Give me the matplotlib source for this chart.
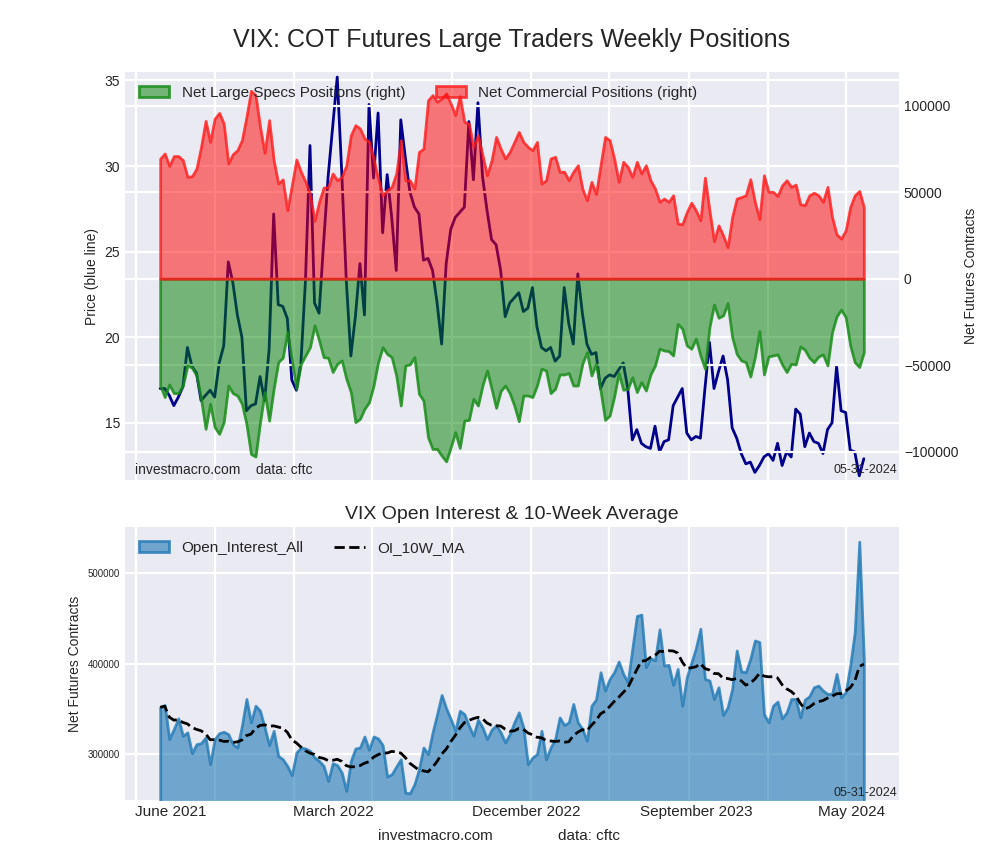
import numpy as np
import pandas as pd
import matplotlib.pyplot as plt
import matplotlib.dates as mdates
from matplotlib.ticker import MultipleLocator

plt.style.use('seaborn-v0_8-darkgrid')
plt.rcParams['font.family'] = ['Liberation Sans', 'DejaVu Sans']
plt.rcParams['grid.linewidth'] = 1.6

# weekly COT report dates (Tuesdays)
dates = pd.date_range("2021-06-08", "2024-05-28", freq="7D")

vix_price = [
    17.0, 17.0, 16.6, 16.0, 16.5, 17.1, 19.4, 18.3, 17.9, 16.3, 16.6, 16.9, 16.5, 18.5, 19.5, 24.4,
    23.2, 21.3, 20.0, 15.7, 16.0, 16.1, 17.7, 16.3, 19.3, 27.2, 21.9, 21.8, 21.1, 17.5, 16.9, 18.5,
    23.3, 31.2, 22.0, 21.4, 25.5, 29.4, 32.3, 35.2, 29.6, 23.3, 18.9, 21.2, 24.3, 21.3, 33.6, 29.3,
    33.1, 26.1, 29.5, 27.0, 23.9, 32.7, 30.5, 28.5, 27.6, 27.2, 24.5, 24.6, 23.9, 22.0, 19.6, 24.3,
    26.3, 27.0, 27.3, 27.6, 32.6, 29.2, 33.7, 29.4, 27.4, 25.7, 25.4, 23.9, 21.2, 22.0, 22.3, 22.6,
    21.5, 21.7, 22.9, 20.6, 19.4, 19.2, 19.4, 18.6, 18.9, 22.9, 20.8, 19.6, 23.7, 21.4, 19.6, 19.0,
    19.1, 17.0, 17.6, 17.8, 17.7, 18.1, 18.5, 17.0, 14.0, 14.6, 13.8, 13.6, 13.5, 14.8, 13.3, 13.9,
    14.0, 16.0, 16.5, 17.0, 14.4, 14.0, 14.2, 14.1, 17.0, 19.7, 17.0, 18.0, 18.9, 17.5, 14.7, 14.1,
    13.2, 12.6, 12.7, 12.1, 12.5, 13.0, 13.2, 12.8, 13.8, 12.5, 13.3, 13.0, 15.8, 15.5, 13.6, 14.4,
    13.9, 13.8, 13.2, 14.6, 15.0, 18.3, 15.7, 15.6, 13.4, 13.3, 11.9, 12.9,
]

net_large_specs = [
    -61800, -68500, -61200, -66200, -66200, -61800, -50200, -51500, -56000, -69500, -86900, -72400,
    -85900, -89800, -83000, -61800, -66200, -67600, -72400, -84000, -101400, -102900, -83000, -65600,
    -82100, -63700, -48300, -45700, -30900, -47300, -63700, -49200, -44400, -39600, -27000, -35700,
    -45400, -45700, -54000, -49200, -47300, -57900, -65600, -83000, -81100, -75300, -71500, -61800,
    -48300, -39600, -43500, -45400, -56000, -73400, -50200, -49600, -45400, -66600, -70500, -91700,
    -98500, -98500, -102400, -105700, -97500, -88800, -97900, -82100, -81700, -69500, -73400, -61800,
    -53100, -63700, -74700, -65000, -61800, -66200, -73400, -82500, -67600, -67600, -68500, -61800,
    -52100, -53100, -66200, -63700, -55400, -55400, -54600, -61800, -61800, -49200, -42500, -56000,
    -49200, -64700, -81700, -79200, -68200, -54600, -64300, -63700, -57000, -65600, -59800, -64700,
    -55400, -50200, -40500, -41500, -41900, -44400, -26100, -28900, -38600, -40500, -34700, -44400,
    -52100, -28000, -14900, -22600, -21200, -14100, -33800, -43500, -47300, -48300, -56600, -45400,
    -30300, -55400, -45000, -44400, -43800, -49600, -54000, -49200, -49600, -39200, -41100, -45700,
    -48300, -45000, -43800, -50200, -30900, -21800, -17900, -22200, -38600, -48300, -51100, -42500,
]

net_commercial = [
    69500, 72500, 65300, 71000, 71000, 68600, 59000, 59300, 63800, 76300, 91400, 79200,
    92700, 96000, 89800, 66700, 72100, 74400, 80200, 93700, 108800, 106300, 88000, 72900,
    91800, 68600, 55100, 57500, 39700, 54100, 69000, 61900, 56100, 49400, 33500, 44500,
    52800, 53100, 60900, 57000, 59000, 65700, 83100, 88900, 87000, 81200, 79300, 69600,
    58000, 48300, 51300, 53200, 60900, 80200, 57000, 57000, 52200, 73400, 75300, 103300,
    106300, 102400, 104300, 107200, 101400, 94700, 105700, 90800, 89800, 76300, 83100, 71500,
    59900, 68600, 82100, 75300, 69600, 73400, 79200, 85000, 79200, 76300, 74400, 79200,
    55100, 57000, 69600, 70600, 61900, 61900, 57000, 61900, 65700, 52200, 45400, 56100,
    49000, 65700, 82100, 80200, 69600, 56100, 67700, 64800, 59000, 67700, 60900, 65700,
    57000, 52200, 44500, 46400, 44500, 48300, 31900, 31500, 38600, 44000, 39600, 33800,
    58500, 39600, 21800, 30900, 25100, 18300, 35700, 46400, 47300, 48300, 57600, 44500,
    34500, 59900, 50300, 50300, 47900, 54100, 57000, 53200, 54500, 43100, 42600, 48300,
    49800, 48300, 44500, 53200, 35700, 25700, 23200, 28000, 41500, 48300, 50800, 41500,
]

open_interest = [
    351900, 354400, 316700, 327800, 339600, 320400, 324100, 301100, 311100, 312200, 318500, 288900,
    316700, 323300, 324800, 322200, 311100, 307400, 331500, 361100, 335200, 353700, 348100, 329600,
    310000, 325900, 298100, 294400, 287000, 276700, 301900, 307400, 306300, 303700, 296300, 292600,
    287000, 270400, 290000, 287800, 279600, 259300, 292600, 306300, 307400, 319600, 304800, 319600,
    317400, 310000, 275200, 277800, 286300, 294400, 257400, 256700, 266700, 283300, 307400, 300000,
    324100, 344400, 365600, 350700, 338900, 325900, 348100, 344400, 331500, 320400, 338100, 329600,
    316700, 327000, 332200, 324100, 313000, 322200, 335200, 346300, 329600, 288900, 296300, 300000,
    325900, 294400, 307400, 316700, 340700, 332200, 335200, 355600, 335200, 327800, 314800, 353700,
    360400, 390700, 370400, 383300, 390700, 402600, 388900, 379600, 416700, 453000, 454500, 396300,
    406300, 403700, 438200, 398100, 398900, 376700, 394400, 353700, 385200, 401100, 417400, 438900,
    383300, 381500, 361100, 374100, 343300, 351900, 372200, 414800, 391500, 390700, 405600, 425900,
    424100, 344400, 335200, 353700, 358200, 339600, 346300, 361100, 361100, 340700, 360400, 364100,
    374100, 375900, 370400, 366700, 366700, 388900, 363000, 368500, 398100, 435200, 535200, 405600,
]

tick_dates = pd.to_datetime(["2021-06-24", "2022-03-02", "2022-12-25", "2023-09-12", "2024-05-09"])
tick_labels = ["June 2021", "March 2022", "December 2022", "September 2023", "May 2024"]

oi = pd.Series(open_interest, index=dates)
oi_ma = oi.rolling(10, min_periods=1).mean()

fig = plt.figure(figsize=(10, 8.6), dpi=100)
fig.suptitle('VIX: COT Futures Large Traders Weekly Positions', fontsize=18, x=0.512, y=0.967)

# top panel: price + net positions
ax1 = fig.add_axes([0.125, 0.442, 0.774, 0.474])
ax1.plot(dates, vix_price, color='darkblue', linewidth=2)
ax1.set_ylim(min(vix_price) * 0.98, max(vix_price) * 1.008)
ax1.set_ylabel('Price (blue line)', fontsize=10)
ax1.tick_params(axis='y', labelsize=10)

ax2 = ax1.twinx()
ax2.fill_between(dates, 0, net_large_specs, facecolor=(0, 0.5, 0, 0.5),
                 edgecolor=(0.1, 0.55, 0.1, 0.85), linewidth=2,
                 label='Net Large Specs Positions (right)')
ax2.fill_between(dates, 0, net_commercial, facecolor=(1, 0, 0, 0.5),
                 edgecolor=(1, 0.1, 0.1, 0.8), linewidth=2,
                 label='Net Commercial Positions (right)')
ax2.set_ylabel('Net Futures Contracts', fontsize=10)
ax2.tick_params(axis='y', labelsize=10)
ax2.legend(loc='upper left', ncol=2, fontsize=11, frameon=False)
ax2.grid(True, color='white')

# bottom panel: open interest
ax3 = fig.add_axes([0.125, 0.070, 0.774, 0.317], sharex=ax1)
ax3.fill_between(dates, 0, oi.values, facecolor=(0.12, 0.47, 0.71, 0.6),
                 edgecolor=(0.12, 0.47, 0.71, 0.8), linewidth=2,
                 label='Open_Interest_All')
ax3.plot(dates, oi_ma.values, color='black', linestyle='--', linewidth=2, label='OI_10W_MA')
ax3.set_ylim(min(open_interest) * 0.972, max(open_interest) * 1.03)
ax3.yaxis.set_major_locator(MultipleLocator(100000))
ax3.set_title('VIX Open Interest & 10-Week Average', fontsize=14)
ax3.set_ylabel('Net Futures Contracts', fontsize=10)
ax3.tick_params(axis='y', labelsize=7)
ax3.legend(loc='upper left', ncol=2, fontsize=11, frameon=False)

ax3.xaxis.set_major_locator(mdates.MonthLocator(bymonth=[1, 5, 9]))
ax3.xaxis.set_major_formatter(plt.NullFormatter())
ax3.set_xticks(tick_dates, minor=True)
ax3.set_xticklabels(tick_labels, minor=True, fontsize=11)
ax3.tick_params(axis='x', which='minor', length=0, pad=4)

# top panel shares the dates but shows no date labels
ax1.tick_params(axis='x', which='both', labelbottom=False)
ax2.tick_params(axis='x', which='both', labelbottom=False)

ax1.text(0.013, 0.025, 'investmacro.com    data: cftc', transform=ax1.transAxes,
         fontsize=10, va='center', zorder=10)
ax1.text(0.998, 0.025, '05-31-2024', transform=ax1.transAxes,
         fontsize=9, ha='right', va='center', zorder=10)
ax3.text(0.998, 0.026, '05-31-2024', transform=ax3.transAxes,
         fontsize=9, ha='right', va='center', zorder=10)

fig.text(0.435, 0.028, 'investmacro.com', fontsize=11, ha='center', va='center')
fig.text(0.589, 0.028, 'data: cftc', fontsize=11, ha='center', va='center')

plt.savefig('out.png', dpi=100)
